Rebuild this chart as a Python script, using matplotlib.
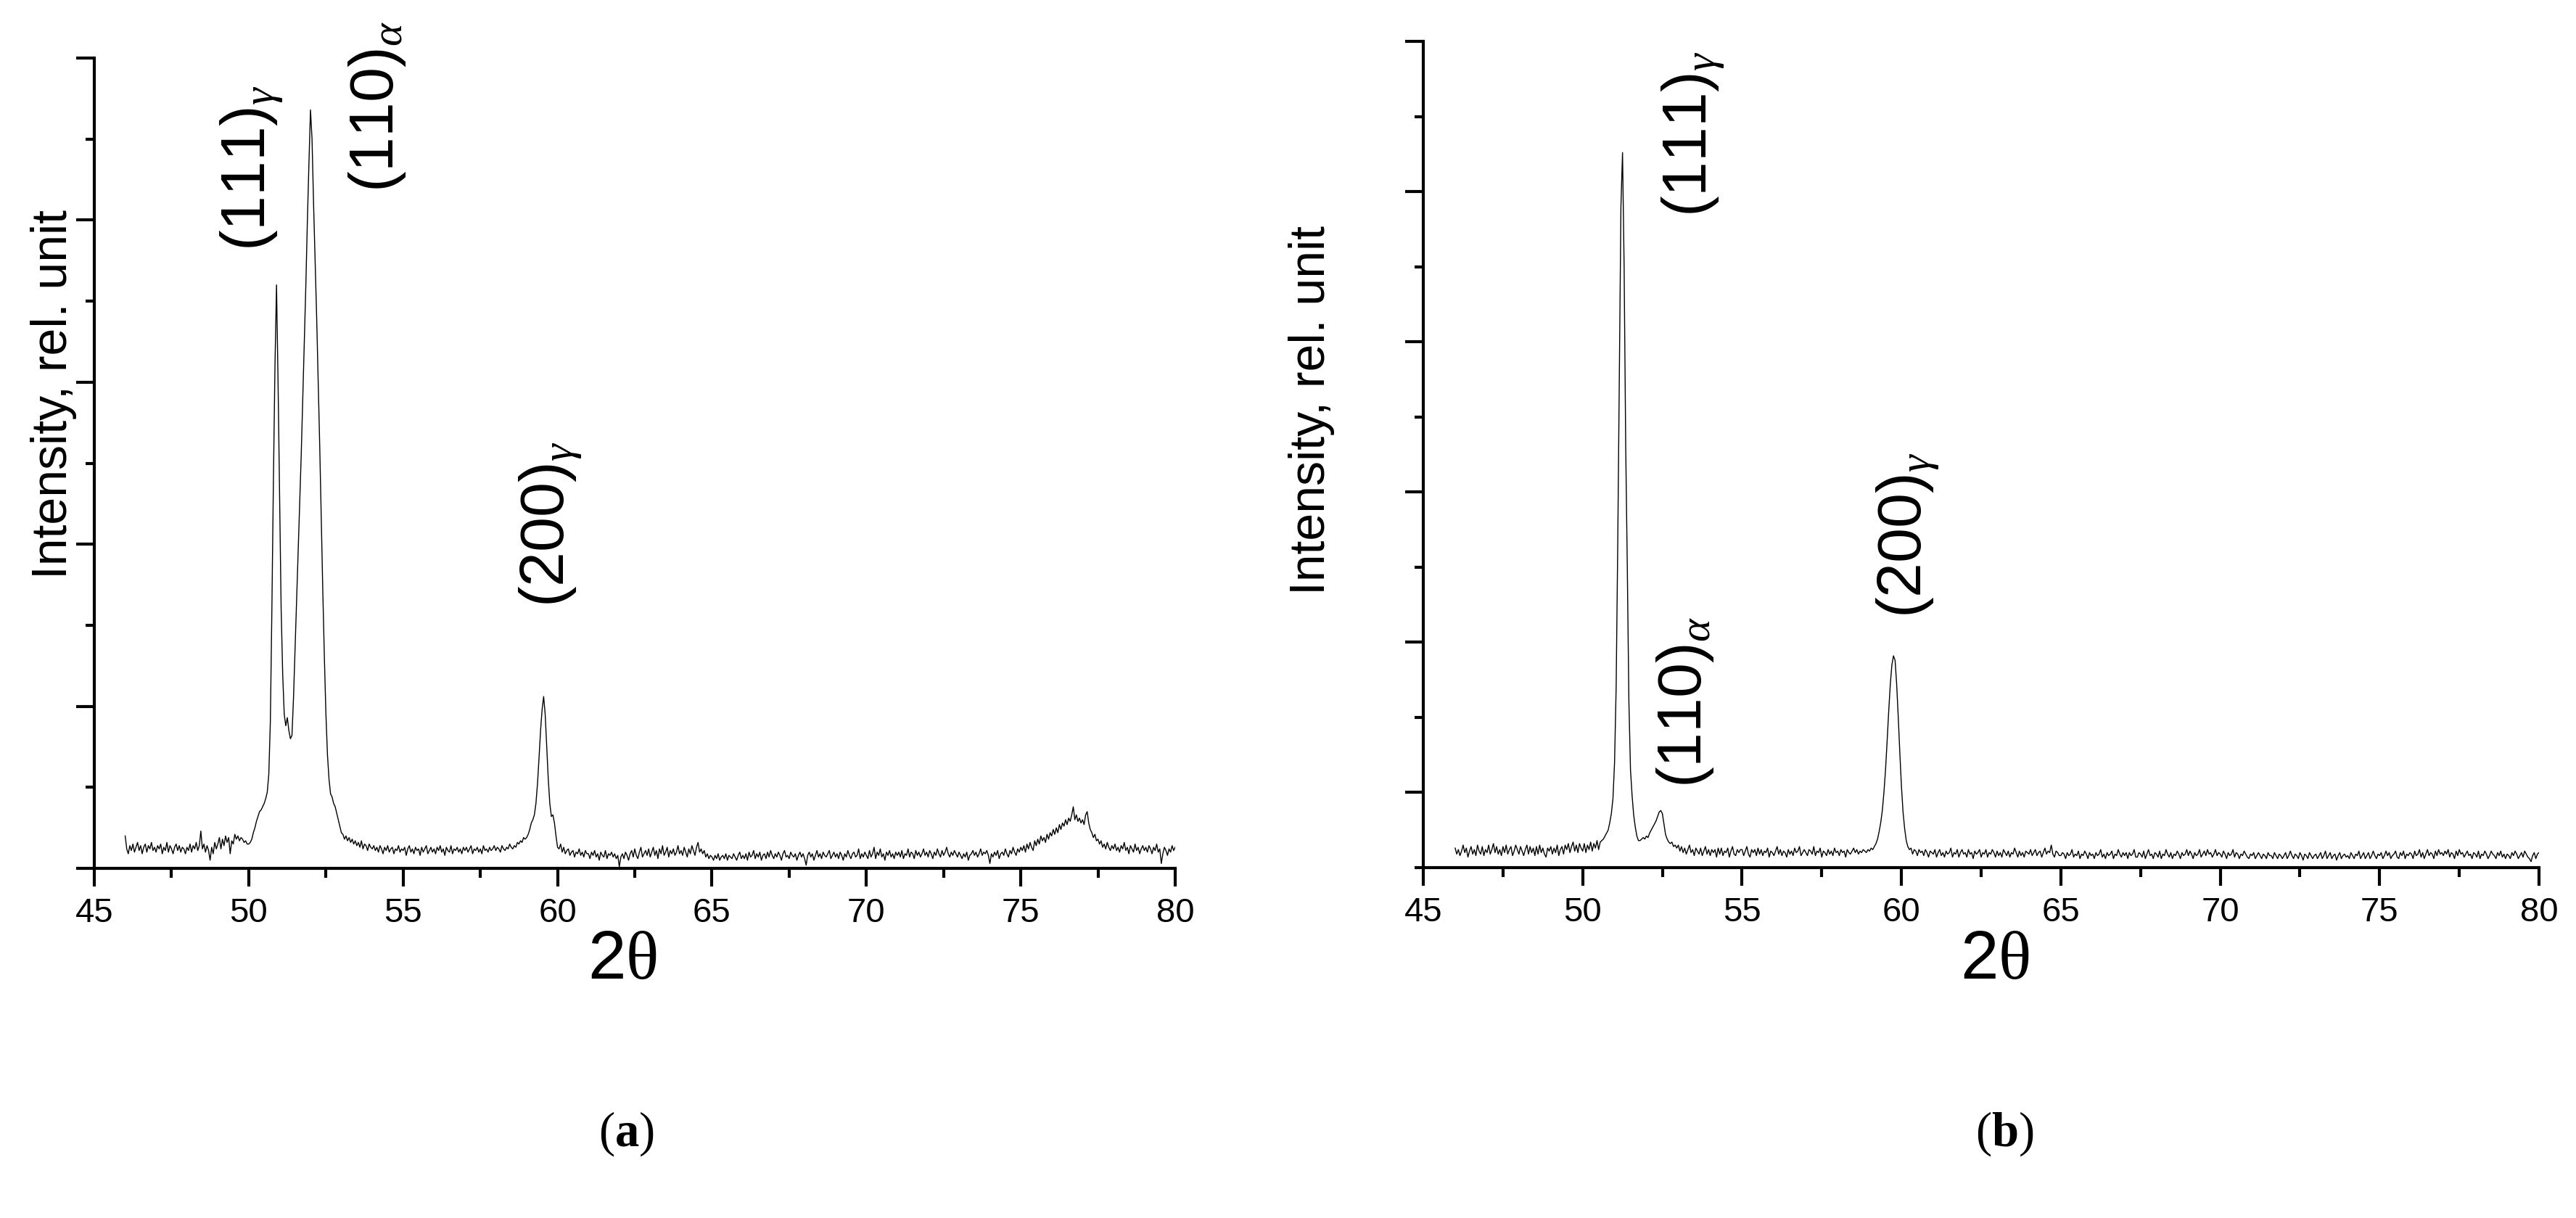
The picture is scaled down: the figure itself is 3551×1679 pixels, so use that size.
import numpy as np
import matplotlib.pyplot as plt
from matplotlib.ticker import MultipleLocator

plt.rcParams['font.family'] = ['Liberation Sans', 'DejaVu Sans']
plt.rcParams['mathtext.fontset'] = 'custom'
plt.rcParams['mathtext.rm'] = 'Liberation Serif'
plt.rcParams['mathtext.it'] = 'Liberation Serif:italic'
plt.rcParams['mathtext.bf'] = 'Liberation Serif:bold'

# scan grid, 2theta in degrees (step 0.05)
two_theta = np.round(np.arange(46, 80.001, 0.05), 2)

# (a) intensity, rel. units (x100), one row per degree
intensity_a = [
    20, 12, 9, 14, 11, 15, 10, 13, 16, 11, 14, 9, 13, 15, 10, 14, 12, 16, 11, 13,
    10, 14, 12, 15, 9, 13, 11, 16, 10, 14, 12, 9, 13, 15, 11, 14, 10, 13, 12, 9,
    13, 11, 15, 10, 14, 12, 16, 11, 14, 23, 12, 15, 10, 14, 11, 5, 13, 9, 16, 12,
    15, 19, 12, 18, 14, 20, 16, 19, 9, 17, 15, 21, 18, 20, 17, 19, 18, 16, 17, 15,
    15, 16, 18, 22, 25, 29, 32, 35, 36, 38, 40, 43, 47, 58, 90, 160, 240, 310, 360, 300,
    230, 160, 120, 95, 88, 93, 85, 80, 82, 105, 135, 165, 195, 225, 255, 290, 325, 360, 400, 435,
    468, 450, 410, 375, 340, 300, 260, 215, 170, 130, 95, 70, 55, 46, 44, 40, 38, 34, 30, 26,
    22, 21, 18, 20, 17, 19, 16, 18, 15, 17, 14, 16, 13, 17, 12, 15, 14, 11, 15, 13,
    12, 14, 11, 13, 10, 14, 12, 9, 13, 11, 14, 10, 12, 13, 9, 12, 11, 14, 10, 12,
    11, 13, 8, 12, 14, 10, 12, 9, 13, 11, 12, 8, 13, 10, 12, 14, 9, 11, 13, 10,
    12, 9, 13, 11, 14, 10, 12, 8, 13, 11, 10, 14, 9, 12, 11, 13, 10, 12, 9, 13,
    11, 13, 10, 12, 14, 9, 12, 11, 13, 10, 12, 9, 14, 11, 12, 10, 13, 11, 12, 14,
    11, 13, 12, 10, 14, 12, 11, 13, 12, 15, 13, 12, 14, 13, 16, 15, 17, 16, 19, 18,
    19, 21, 24, 28, 30, 33, 40, 52, 68, 85, 98, 106, 95, 75, 55, 40, 32, 33, 28, 20,
    13, 12, 15, 10, 13, 9, 11, 12, 8, 10, 11, 7, 10, 9, 12, 8, 10, 7, 11, 9,
    9, 6, 10, 8, 11, 7, 9, 5, 10, 8, 7, 11, 6, 9, 8, 10, 7, 9, 6, 8,
    1, 7, 9, 6, 10, 8, 5, 9, 11, 7, 12, 8, 6, 10, 13, 7, 9, 11, 8, 12,
    7, 10, 13, 8, 11, 6, 12, 9, 14, 8, 10, 13, 7, 11, 9, 12, 8, 10, 14, 9,
    11, 8, 13, 10, 7, 12, 9, 14, 11, 8, 13, 16, 10, 12, 9, 11, 7, 9, 6, 8,
    7, 5, 8, 6, 9, 5, 7, 8, 6, 9, 5, 8, 7, 6, 9, 7, 5, 8, 10, 6,
    8, 6, 9, 5, 10, 7, 8, 11, 6, 9, 7, 10, 5, 8, 9, 6, 10, 7, 11, 8,
    6, 9, 7, 10, 8, 5, 9, 11, 7, 8, 6, 10, 8, 7, 9, 5, 8, 10, 7, 9,
    6, 2, 8, 10, 7, 9, 5, 8, 11, 7, 9, 6, 10, 8, 7, 9, 11, 6, 8, 10,
    7, 9, 6, 10, 8, 5, 9, 7, 11, 8, 6, 9, 10, 7, 8, 12, 6, 9, 7, 10,
    8, 6, 11, 7, 9, 13, 6, 10, 8, 12, 7, 9, 5, 10, 8, 11, 7, 9, 6, 10,
    8, 10, 7, 11, 6, 9, 8, 12, 7, 10, 9, 6, 11, 8, 10, 7, 9, 12, 8, 10,
    7, 11, 9, 6, 10, 8, 12, 9, 7, 11, 8, 10, 13, 9, 7, 10, 8, 11, 9, 7,
    10, 8, 6, 9, 7, 10, 5, 8, 9, 11, 8, 10, 7, 9, 12, 8, 10, 9, 11, 8,
    3, 9, 7, 10, 8, 11, 6, 9, 10, 8, 12, 9, 7, 11, 9, 13, 10, 8, 12, 10,
    13, 11, 14, 10, 15, 12, 16, 13, 11, 17, 14, 18, 15, 20, 17, 19, 16, 21, 18, 22,
    20, 24, 21, 25, 22, 27, 24, 28, 26, 30, 27, 31, 29, 33, 38, 30, 33, 29, 31, 28,
    30, 27, 33, 35, 28, 24, 22, 19, 21, 17, 18, 15, 17, 13, 15, 12, 16, 13, 11, 14,
    12, 15, 11, 13, 10, 14, 12, 16, 11, 13, 9, 14, 12, 10, 15, 11, 13, 9, 12, 14,
    11, 13, 10, 14, 12, 9, 13, 11, 15, 10, 12, 3, 9, 13, 11, 8, 12, 10, 14, 11,
    13,
]

# (b) intensity, rel. units (x100), one row per degree
intensity_b = [
    13, 9, 12, 8, 11, 15, 10, 13, 7, 11, 14, 9, 12, 8, 15, 11, 9, 14, 8, 12,
    10, 15, 9, 12, 16, 10, 14, 9, 12, 8, 14, 10, 15, 9, 12, 14, 8, 11, 15, 12,
    9, 14, 11, 8, 12, 15, 9, 14, 10, 13, 8, 14, 9, 15, 10, 13, 9, 7, 13, 11,
    14, 9, 13, 10, 15, 8, 12, 14, 9, 15, 12, 16, 10, 14, 17, 11, 15, 10, 16, 13,
    11, 16, 10, 15, 12, 17, 11, 16, 13, 18, 12, 17, 18, 19, 21, 23, 25, 30, 36, 46,
    70, 120, 215, 330, 440, 476, 400, 280, 200, 110, 65, 48, 35, 27, 21, 18, 18, 19, 20, 19,
    21, 20, 23, 25, 27, 29, 31, 34, 37, 38, 36, 29, 22, 19, 17, 16, 17, 14, 15, 13,
    15, 11, 14, 10, 13, 9, 12, 15, 10, 12, 8, 13, 11, 9, 13, 8, 11, 14, 9, 12,
    8, 12, 10, 12, 7, 13, 9, 13, 8, 11, 10, 13, 7, 11, 14, 9, 8, 12, 10, 12,
    12, 8, 11, 14, 9, 7, 12, 10, 12, 8, 13, 9, 12, 8, 11, 10, 13, 7, 11, 10,
    8, 11, 14, 9, 12, 8, 11, 10, 7, 12, 9, 11, 8, 13, 10, 11, 14, 8, 10, 12,
    10, 8, 12, 11, 9, 14, 8, 11, 10, 13, 7, 11, 10, 8, 12, 9, 11, 8, 13, 10,
    11, 8, 12, 10, 11, 7, 12, 10, 9, 11, 13, 10, 12, 9, 11, 10, 12, 11, 10, 12,
    11, 13, 12, 14, 16, 19, 24, 30, 38, 50, 65, 84, 104, 122, 135, 141, 138, 122, 100, 76,
    54, 37, 26, 18, 14, 12, 13, 9, 12, 11, 8, 12, 10, 11, 8, 12, 10, 7, 11, 10,
    9, 12, 7, 10, 12, 8, 10, 7, 11, 9, 10, 13, 7, 10, 9, 12, 7, 10, 12, 9,
    10, 7, 12, 9, 10, 6, 11, 9, 10, 12, 7, 10, 9, 12, 7, 10, 9, 12, 10, 7,
    11, 8, 10, 7, 12, 10, 8, 11, 7, 10, 9, 13, 10, 7, 11, 8, 10, 7, 11, 10,
    9, 12, 8, 10, 12, 8, 10, 11, 7, 10, 13, 9, 11, 10, 15, 9, 7, 11, 10, 8,
    8, 10, 9, 6, 10, 8, 9, 12, 7, 9, 8, 11, 6, 9, 8, 11, 9, 6, 10, 8,
    9, 6, 10, 8, 9, 12, 7, 9, 6, 10, 8, 9, 11, 6, 9, 8, 12, 9, 7, 10,
    8, 10, 6, 10, 8, 9, 12, 7, 7, 10, 9, 7, 11, 6, 9, 12, 8, 9, 6, 10,
    9, 7, 11, 6, 9, 8, 12, 9, 7, 10, 6, 9, 8, 11, 9, 6, 10, 8, 9, 12,
    8, 11, 9, 6, 10, 8, 9, 12, 7, 9, 11, 8, 12, 9, 10, 7, 9, 12, 8, 10,
    9, 7, 11, 9, 6, 10, 8, 9, 12, 7, 10, 9, 6, 9, 8, 11, 9, 7, 6, 9,
    8, 10, 6, 8, 10, 8, 6, 9, 8, 6, 10, 8, 8, 6, 10, 8, 6, 9, 8, 6,
    8, 10, 6, 8, 11, 8, 6, 9, 8, 6, 10, 8, 5, 9, 8, 6, 10, 8, 6, 8,
    9, 6, 8, 10, 6, 8, 11, 6, 8, 10, 6, 8, 9, 5, 8, 10, 6, 8, 9, 7,
    8, 6, 10, 8, 6, 9, 8, 11, 6, 8, 10, 6, 8, 10, 6, 8, 11, 8, 6, 9,
    8, 10, 6, 8, 11, 8, 10, 6, 8, 9, 11, 7, 6, 10, 8, 11, 6, 9, 8, 10,
    9, 6, 11, 8, 9, 12, 7, 10, 6, 9, 12, 8, 10, 9, 6, 11, 8, 12, 9, 10,
    8, 11, 9, 12, 7, 10, 9, 6, 11, 8, 12, 9, 10, 7, 9, 11, 8, 9, 6, 10,
    9, 7, 11, 6, 9, 8, 11, 9, 6, 8, 11, 9, 8, 6, 10, 8, 11, 7, 9, 6,
    9, 8, 6, 10, 8, 11, 9, 6, 8, 10, 7, 11, 9, 7, 6, 4, 8, 10, 6, 9,
    10,
]

x_ticks = [45, 50, 55, 60, 65, 70, 75, 80]

W, H = 3551, 1679
fig = plt.figure(figsize=(W / 100, H / 100), dpi=100)

def px(x, y):
    # figure pixel (from top-left) -> figure fraction
    return x / W, 1 - y / H

def style(ax, ymax, major, minor):
    ax.set_xlim(45, 80)
    ax.set_ylim(0, ymax)
    ax.spines[['top', 'right']].set_visible(False)
    ax.spines[['left', 'bottom']].set_linewidth(3)
    ax.set_xticks(x_ticks)
    ax.xaxis.set_minor_locator(MultipleLocator(2.5))
    ax.set_yticks(major)
    ax.set_yticks(minor, minor=True)
    ax.set_yticklabels([])
    ax.tick_params(which='major', length=18, width=3, labelsize=34, pad=11)
    ax.tick_params(which='minor', length=9, width=3)

def peak_label(ax, x, y, main, sub):
    ax.text(x, y, main + '$_{\\' + sub + '}$', rotation=90, rotation_mode='anchor',
            ha='left', va='baseline', fontsize=62, clip_on=False)

# (a)
ax1 = fig.add_axes([130 / W, 482 / H, 1490 / W, 1117 / H])
ax1.plot(two_theta, intensity_a, color='black', lw=1.0)
style(ax1, 500, np.arange(0, 501, 100), np.arange(50, 500, 100))
peak_label(ax1, 50.51, 381, '(111)', 'gamma')
peak_label(ax1, 54.68, 417, '(110)', 'alpha')
peak_label(ax1, 60.19, 161, '(200)', 'gamma')

# (b)
ax2 = fig.add_axes([1962 / W, 483 / H, 1538 / W, 1139 / H])
ax2.plot(two_theta, intensity_b, color='black', lw=1.0)
style(ax2, 550, np.arange(50, 551, 100), np.arange(0, 551, 100))
peak_label(ax2, 53.88, 433, '(111)', 'gamma')
peak_label(ax2, 53.72, 53, '(110)', 'alpha')
peak_label(ax2, 60.61, 166, '(200)', 'gamma')

for xb, yc in [(92, 543), (1826, 565)]:
    fig.text(*px(xb, yc), 'Intensity, rel. unit', rotation=90, rotation_mode='anchor',
             ha='center', va='baseline', fontsize=49)

for xc in [858, 2750]:
    fig.text(*px(xc, 1325), '2$\\mathrm{\\theta}$', ha='center', va='center', fontsize=68)

for xc, letter in [(863, 'a'), (2763, 'b')]:
    fig.text(*px(xc, 1563), '($\\mathbf{' + letter + '}$)', ha='center', va='center',
             fontsize=48, family='Liberation Serif')

fig.savefig('out.png', dpi=100)
